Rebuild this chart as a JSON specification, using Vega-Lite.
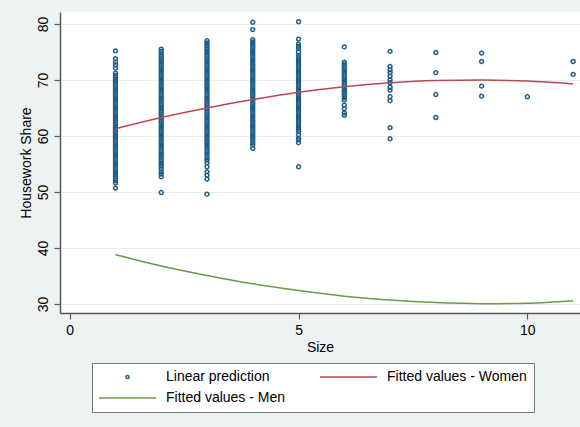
{
  "$schema": "https://vega.github.io/schema/vega-lite/v6.json",
  "width": 520,
  "height": 301,
  "autosize": {"type": "none"},
  "padding": {"left": 60, "top": 12, "right": 0, "bottom": 114},
  "background": "#edf2f3",
  "config": {
    "font": "Liberation Sans",
    "view": {"fill": "white", "stroke": null},
    "axis": {
      "labelFontSize": 14,
      "titleFontSize": 14,
      "titleFontWeight": "normal",
      "labelColor": "#000000",
      "titleColor": "#000000",
      "domainColor": "#5a5a5a",
      "tickColor": "#5a5a5a",
      "domainWidth": 1.5,
      "tickWidth": 1.2,
      "tickSize": 6,
      "labelFlush": false,
      "labelOverlap": false
    },
    "legend": {
      "title": null,
      "orient": "none",
      "legendX": 32,
      "legendY": 351,
      "direction": "horizontal",
      "columns": 2,
      "padding": 7,
      "strokeColor": "#777777",
      "fillColor": "#ffffff",
      "labelFontSize": 14,
      "labelColor": "#000000",
      "labelLimit": 300,
      "symbolSize": 30,
      "symbolStrokeWidth": 1.5,
      "symbolOffset": 0,
      "labelOffset": 8,
      "clipHeight": 14,
      "rowPadding": 7,
      "columnPadding": 34
    }
  },
  "datasets": {
    "pts": [
      {"Size":1,"Share":50.7},{"Size":1,"Share":51.6},{"Size":1,"Share":52.0},{"Size":1,"Share":52.4},{"Size":1,"Share":52.8},{"Size":1,"Share":53.2},{"Size":1,"Share":53.6},{"Size":1,"Share":54.0},{"Size":1,"Share":54.4},{"Size":1,"Share":54.8},{"Size":1,"Share":55.2},{"Size":1,"Share":55.6},{"Size":1,"Share":56.0},{"Size":1,"Share":56.4},{"Size":1,"Share":56.8},{"Size":1,"Share":57.2},{"Size":1,"Share":57.6},{"Size":1,"Share":58.0},{"Size":1,"Share":58.4},{"Size":1,"Share":58.8},{"Size":1,"Share":59.2},{"Size":1,"Share":59.6},{"Size":1,"Share":60.0},{"Size":1,"Share":60.4},{"Size":1,"Share":60.8},{"Size":1,"Share":61.2},{"Size":1,"Share":61.6},{"Size":1,"Share":62.0},{"Size":1,"Share":62.4},{"Size":1,"Share":62.8},{"Size":1,"Share":63.2},{"Size":1,"Share":63.6},{"Size":1,"Share":64.0},{"Size":1,"Share":64.4},{"Size":1,"Share":64.8},{"Size":1,"Share":65.2},{"Size":1,"Share":65.6},{"Size":1,"Share":66.0},{"Size":1,"Share":66.4},{"Size":1,"Share":66.8},{"Size":1,"Share":67.2},{"Size":1,"Share":67.6},{"Size":1,"Share":68.0},{"Size":1,"Share":68.4},{"Size":1,"Share":68.8},{"Size":1,"Share":69.2},{"Size":1,"Share":69.6},{"Size":1,"Share":70.0},{"Size":1,"Share":70.4},{"Size":1,"Share":70.8},{"Size":1,"Share":71.2},{"Size":1,"Share":72.1},{"Size":1,"Share":72.7},{"Size":1,"Share":73.2},{"Size":1,"Share":73.8},{"Size":1,"Share":75.2},
      {"Size":2,"Share":49.9},{"Size":2,"Share":52.7},{"Size":2,"Share":53.2},{"Size":2,"Share":53.6},{"Size":2,"Share":54.1},{"Size":2,"Share":54.6},{"Size":2,"Share":55.0},{"Size":2,"Share":55.4},{"Size":2,"Share":55.8},{"Size":2,"Share":56.2},{"Size":2,"Share":56.6},{"Size":2,"Share":57.0},{"Size":2,"Share":57.4},{"Size":2,"Share":57.8},{"Size":2,"Share":58.2},{"Size":2,"Share":58.6},{"Size":2,"Share":59.0},{"Size":2,"Share":59.4},{"Size":2,"Share":59.8},{"Size":2,"Share":60.2},{"Size":2,"Share":60.6},{"Size":2,"Share":61.0},{"Size":2,"Share":61.4},{"Size":2,"Share":61.8},{"Size":2,"Share":62.2},{"Size":2,"Share":62.6},{"Size":2,"Share":63.0},{"Size":2,"Share":63.4},{"Size":2,"Share":63.8},{"Size":2,"Share":64.2},{"Size":2,"Share":64.6},{"Size":2,"Share":65.0},{"Size":2,"Share":65.4},{"Size":2,"Share":65.8},{"Size":2,"Share":66.2},{"Size":2,"Share":66.6},{"Size":2,"Share":67.0},{"Size":2,"Share":67.4},{"Size":2,"Share":67.8},{"Size":2,"Share":68.2},{"Size":2,"Share":68.6},{"Size":2,"Share":69.0},{"Size":2,"Share":69.4},{"Size":2,"Share":69.8},{"Size":2,"Share":70.2},{"Size":2,"Share":70.6},{"Size":2,"Share":71.0},{"Size":2,"Share":71.4},{"Size":2,"Share":71.8},{"Size":2,"Share":72.2},{"Size":2,"Share":72.6},{"Size":2,"Share":73.0},{"Size":2,"Share":73.4},{"Size":2,"Share":73.8},{"Size":2,"Share":74.2},{"Size":2,"Share":74.6},{"Size":2,"Share":75.1},{"Size":2,"Share":75.5},
      {"Size":3,"Share":49.6},{"Size":3,"Share":52.3},{"Size":3,"Share":53.0},{"Size":3,"Share":53.6},{"Size":3,"Share":54.5},{"Size":3,"Share":55.2},{"Size":3,"Share":55.7},{"Size":3,"Share":56.1},{"Size":3,"Share":56.6},{"Size":3,"Share":57.0},{"Size":3,"Share":57.4},{"Size":3,"Share":57.8},{"Size":3,"Share":58.2},{"Size":3,"Share":58.6},{"Size":3,"Share":59.0},{"Size":3,"Share":59.4},{"Size":3,"Share":59.8},{"Size":3,"Share":60.2},{"Size":3,"Share":60.6},{"Size":3,"Share":61.0},{"Size":3,"Share":61.4},{"Size":3,"Share":61.8},{"Size":3,"Share":62.2},{"Size":3,"Share":62.6},{"Size":3,"Share":63.0},{"Size":3,"Share":63.4},{"Size":3,"Share":63.8},{"Size":3,"Share":64.2},{"Size":3,"Share":64.6},{"Size":3,"Share":65.0},{"Size":3,"Share":65.4},{"Size":3,"Share":65.8},{"Size":3,"Share":66.2},{"Size":3,"Share":66.6},{"Size":3,"Share":67.0},{"Size":3,"Share":67.4},{"Size":3,"Share":67.8},{"Size":3,"Share":68.2},{"Size":3,"Share":68.6},{"Size":3,"Share":69.0},{"Size":3,"Share":69.4},{"Size":3,"Share":69.8},{"Size":3,"Share":70.2},{"Size":3,"Share":70.6},{"Size":3,"Share":71.0},{"Size":3,"Share":71.4},{"Size":3,"Share":71.8},{"Size":3,"Share":72.2},{"Size":3,"Share":72.6},{"Size":3,"Share":73.0},{"Size":3,"Share":73.4},{"Size":3,"Share":73.8},{"Size":3,"Share":74.2},{"Size":3,"Share":74.6},{"Size":3,"Share":75.0},{"Size":3,"Share":75.4},{"Size":3,"Share":75.8},{"Size":3,"Share":76.2},{"Size":3,"Share":76.6},{"Size":3,"Share":77.0},
      {"Size":4,"Share":57.8},{"Size":4,"Share":58.4},{"Size":4,"Share":58.8},{"Size":4,"Share":59.2},{"Size":4,"Share":59.6},{"Size":4,"Share":60.0},{"Size":4,"Share":60.4},{"Size":4,"Share":60.8},{"Size":4,"Share":61.2},{"Size":4,"Share":61.6},{"Size":4,"Share":62.0},{"Size":4,"Share":62.4},{"Size":4,"Share":62.8},{"Size":4,"Share":63.2},{"Size":4,"Share":63.6},{"Size":4,"Share":64.0},{"Size":4,"Share":64.4},{"Size":4,"Share":64.8},{"Size":4,"Share":65.2},{"Size":4,"Share":65.6},{"Size":4,"Share":66.0},{"Size":4,"Share":66.4},{"Size":4,"Share":66.8},{"Size":4,"Share":67.2},{"Size":4,"Share":67.6},{"Size":4,"Share":68.0},{"Size":4,"Share":68.4},{"Size":4,"Share":68.8},{"Size":4,"Share":69.2},{"Size":4,"Share":69.6},{"Size":4,"Share":70.0},{"Size":4,"Share":70.4},{"Size":4,"Share":70.8},{"Size":4,"Share":71.2},{"Size":4,"Share":71.6},{"Size":4,"Share":72.0},{"Size":4,"Share":72.4},{"Size":4,"Share":72.8},{"Size":4,"Share":73.2},{"Size":4,"Share":73.6},{"Size":4,"Share":74.0},{"Size":4,"Share":74.4},{"Size":4,"Share":74.8},{"Size":4,"Share":75.2},{"Size":4,"Share":75.6},{"Size":4,"Share":76.0},{"Size":4,"Share":76.4},{"Size":4,"Share":76.8},{"Size":4,"Share":77.2},{"Size":4,"Share":79.0},{"Size":4,"Share":80.3},
      {"Size":5,"Share":54.5},{"Size":5,"Share":58.8},{"Size":5,"Share":59.3},{"Size":5,"Share":59.6},{"Size":5,"Share":60.2},{"Size":5,"Share":60.8},{"Size":5,"Share":61.2},{"Size":5,"Share":61.6},{"Size":5,"Share":62.0},{"Size":5,"Share":62.4},{"Size":5,"Share":62.8},{"Size":5,"Share":63.2},{"Size":5,"Share":63.6},{"Size":5,"Share":64.0},{"Size":5,"Share":64.4},{"Size":5,"Share":64.8},{"Size":5,"Share":65.2},{"Size":5,"Share":65.6},{"Size":5,"Share":66.0},{"Size":5,"Share":66.4},{"Size":5,"Share":66.8},{"Size":5,"Share":67.2},{"Size":5,"Share":67.6},{"Size":5,"Share":68.0},{"Size":5,"Share":68.4},{"Size":5,"Share":68.8},{"Size":5,"Share":69.2},{"Size":5,"Share":69.6},{"Size":5,"Share":70.0},{"Size":5,"Share":70.4},{"Size":5,"Share":70.8},{"Size":5,"Share":71.2},{"Size":5,"Share":71.6},{"Size":5,"Share":72.0},{"Size":5,"Share":72.4},{"Size":5,"Share":72.8},{"Size":5,"Share":73.2},{"Size":5,"Share":73.6},{"Size":5,"Share":74.0},{"Size":5,"Share":74.4},{"Size":5,"Share":75.0},{"Size":5,"Share":75.6},{"Size":5,"Share":76.0},{"Size":5,"Share":76.4},{"Size":5,"Share":77.3},{"Size":5,"Share":80.4},
      {"Size":6,"Share":63.7},{"Size":6,"Share":64.1},{"Size":6,"Share":64.9},{"Size":6,"Share":65.5},{"Size":6,"Share":66.4},{"Size":6,"Share":66.8},{"Size":6,"Share":67.2},{"Size":6,"Share":67.6},{"Size":6,"Share":68.0},{"Size":6,"Share":68.4},{"Size":6,"Share":68.8},{"Size":6,"Share":69.2},{"Size":6,"Share":69.6},{"Size":6,"Share":70.0},{"Size":6,"Share":70.4},{"Size":6,"Share":70.8},{"Size":6,"Share":71.2},{"Size":6,"Share":71.6},{"Size":6,"Share":72.0},{"Size":6,"Share":72.4},{"Size":6,"Share":72.8},{"Size":6,"Share":73.2},{"Size":6,"Share":75.9},
      {"Size":7,"Share":59.5},{"Size":7,"Share":61.5},{"Size":7,"Share":66.3},{"Size":7,"Share":67.0},{"Size":7,"Share":68.2},{"Size":7,"Share":68.7},{"Size":7,"Share":69.5},{"Size":7,"Share":70.0},{"Size":7,"Share":70.7},{"Size":7,"Share":71.3},{"Size":7,"Share":71.8},{"Size":7,"Share":72.4},{"Size":7,"Share":75.1},
      {"Size":8,"Share":63.3},{"Size":8,"Share":67.4},{"Size":8,"Share":71.3},{"Size":8,"Share":74.9},
      {"Size":9,"Share":67.1},{"Size":9,"Share":68.9},{"Size":9,"Share":73.3},{"Size":9,"Share":74.8},
      {"Size":10,"Share":67.0},
      {"Size":11,"Share":71.0},{"Size":11,"Share":73.3}
    ],
    "fit": [
      {"Size":1,"Share":61.3,"Series":"Fitted values - Women"},{"Size":2,"Share":63.3,"Series":"Fitted values - Women"},{"Size":3,"Share":65.0,"Series":"Fitted values - Women"},{"Size":4,"Share":66.5,"Series":"Fitted values - Women"},{"Size":5,"Share":67.8,"Series":"Fitted values - Women"},{"Size":6,"Share":68.8,"Series":"Fitted values - Women"},{"Size":7,"Share":69.5,"Series":"Fitted values - Women"},{"Size":8,"Share":69.9,"Series":"Fitted values - Women"},{"Size":9,"Share":70.0,"Series":"Fitted values - Women"},{"Size":10,"Share":69.8,"Series":"Fitted values - Women"},{"Size":11,"Share":69.3,"Series":"Fitted values - Women"},
      {"Size":1,"Share":38.8,"Series":"Fitted values - Men"},{"Size":2,"Share":36.8,"Series":"Fitted values - Men"},{"Size":3,"Share":35.1,"Series":"Fitted values - Men"},{"Size":4,"Share":33.6,"Series":"Fitted values - Men"},{"Size":5,"Share":32.4,"Series":"Fitted values - Men"},{"Size":6,"Share":31.4,"Series":"Fitted values - Men"},{"Size":7,"Share":30.7,"Series":"Fitted values - Men"},{"Size":8,"Share":30.25,"Series":"Fitted values - Men"},{"Size":9,"Share":30.05,"Series":"Fitted values - Men"},{"Size":10,"Share":30.15,"Series":"Fitted values - Men"},{"Size":11,"Share":30.6,"Series":"Fitted values - Men"}
    ]
  },
  "encoding": {
    "x": {
      "field": "Size",
      "type": "quantitative",
      "scale": {"domain": [-0.212, 11.15], "nice": false, "zero": false},
      "axis": {
        "values": [0, 5, 10],
        "grid": false,
        "title": "Size",
        "labelPadding": 4,
        "titleX": 260,
        "titleY": 38.5,
        "titleBaseline": "alphabetic",
        "titleAlign": "center"
      }
    },
    "y": {
      "field": "Share",
      "type": "quantitative",
      "scale": {"domain": [28.39, 82.14], "nice": false, "zero": false},
      "axis": {
        "values": [30, 40, 50, 60, 70, 80],
        "grid": true,
        "gridColor": "#e6eef0",
        "gridWidth": 1,
        "title": "Housework Share",
        "labelAngle": 270,
        "labelAlign": "center",
        "labelBaseline": "alphabetic",
        "labelPadding": 7,
        "titleAngle": 270,
        "titleX": -30,
        "titleY": 150.5,
        "titleAlign": "center",
        "titleBaseline": "alphabetic"
      }
    },
    "color": {
      "field": "Series",
      "type": "nominal",
      "scale": {
        "domain": ["Linear prediction", "Fitted values - Women", "Fitted values - Men"],
        "range": ["#1f5d87", "#b84a4f", "#6a9a45"]
      },
      "legend": {
        "values": ["Linear prediction", "Fitted values - Women", "Fitted values - Men"],
        "encode": {
          "symbols": {
            "update": {
              "shape": {"signal": "datum.value === 'Linear prediction' ? 'circle' : 'stroke'"},
              "size": {"signal": "datum.value === 'Linear prediction' ? 10 : 3250"},
              "x": {"value": 28.5},
              "fill": {"value": "transparent"}
            }
          }
        }
      }
    }
  },
  "layer": [
    {
      "data": {"name": "pts"},
      "mark": {"type": "point", "filled": false, "size": 15, "strokeWidth": 1.5, "opacity": 1},
      "encoding": {
        "color": {
          "datum": "Linear prediction",
          "type": "nominal"
        }
      }
    },
    {
      "data": {"name": "fit"},
      "mark": {"type": "line", "strokeWidth": 1.5, "interpolate": "monotone"},
      "encoding": {}
    }
  ]
}
